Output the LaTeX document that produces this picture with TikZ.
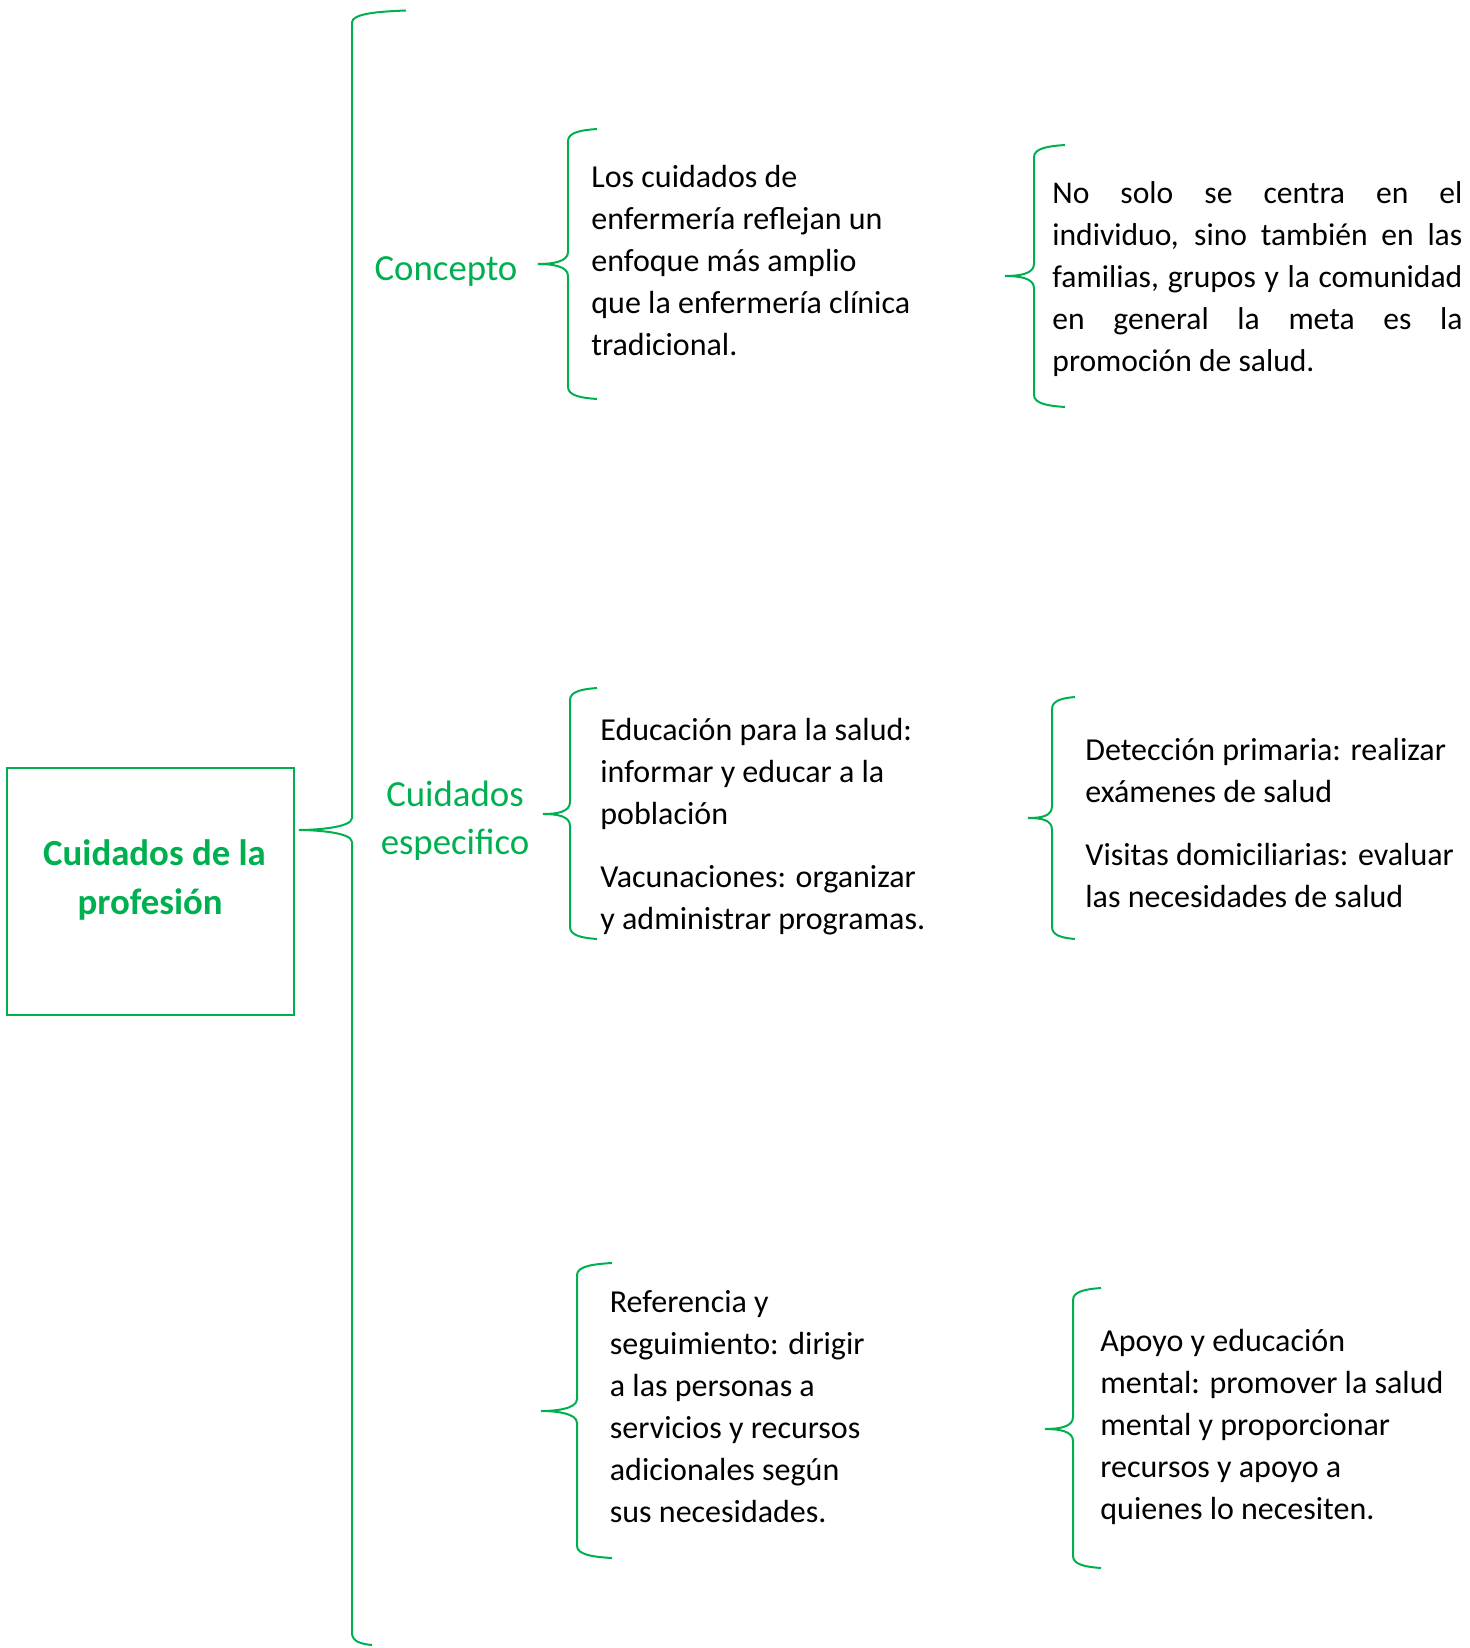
\documentclass[tikz,border=0pt]{standalone}
\usepackage{fontspec}
\setmainfont{Carlito}
\usepackage{xcolor}
\definecolor{verde}{HTML}{00B050}

% brace: x, top, bottom, tip x, tip y, top hook end, bottom hook end
\newcommand{\llave}[7]{%
  \draw[llave] (#6,#2) .. controls ({(#1+#6)/2},{#2+1}) and (#1,{#2+3}) .. (#1,{#2+12})
    -- (#1,{#5-12}) .. controls (#1,{#5-2}) and ({#4+14},#5) .. (#4,#5)
    .. controls ({#4+14},#5) and (#1,{#5+2}) .. (#1,{#5+12})
    -- (#1,{#3-12}) .. controls (#1,{#3-3}) and ({(#1+#7)/2},{#3-1}) .. (#7,#3);}

\begin{document}
\begin{tikzpicture}[x=0.5pt, y=-0.5pt,
  caja/.style={draw=verde, line width=1.2pt, rectangle, inner sep=0pt},
  llave/.style={draw=verde, line width=1pt},
  titulo/.style={text=verde, font=\fontsize{18.4pt}{24.7pt}\selectfont\bfseries, align=center},
  rama/.style={text=verde, font=\fontsize{18.4pt}{24pt}\selectfont, align=center},
  texto/.style={font=\fontsize{16pt}{21pt}\selectfont, align=left, inner sep=0pt, anchor=west}]
  \useasboundingbox (0,0) rectangle (1469,1648);

  % Define blocks
  \node [caja, minimum width=143.5pt, minimum height=123.5pt, anchor=north west] (raiz) at (6,767) {};
  \node [titulo] (tituloraiz) at (154.5,880) {Cuidados de la\\profesión\hspace*{4.3pt}};

  \node [rama] (concepto) at (446,272) {Concepto};
  \node [rama] (especifico) at (455,821) {Cuidados\\especifico};

  \node [texto] (tconcepto) at (591,261) {Los cuidados de\\enfermería reflejan un\\enfoque más amplio\\que la enfermería clínica\\tradicional.};
  \node [texto, font=\fontsize{15.8pt}{21pt}\selectfont, text width=205pt, align=justify] (tcomunidad) at (1052,279) {No solo se centra en el\linebreak individuo, sino también en las\linebreak familias, grupos y la comunidad\linebreak en general la meta es la\linebreak promoción de salud.};

  \node [texto] (teducacion) at (600,827) {Educación para la salud:\\informar y educar a la\\población\\[10.5pt]Vacunaciones: organizar\\y administrar programas.};
  \node [texto] (tdeteccion) at (1085,822.5) {Detección primaria: realizar\\exámenes de salud\\[10.5pt]Visitas domiciliarias: evaluar\\las necesidades de salud};

  \node [texto] (treferencia) at (609.5,1406.5) {Referencia y\\seguimiento: dirigir\\a las personas a\\servicios y recursos\\adicionales según\\sus necesidades.};
  \node [texto] (tapoyo) at (1100,1426.5) {Apoyo y educación\\mental: promover la salud\\mental y proporcionar\\recursos y apoyo a\\quienes lo necesiten.};

  % Braces
  \llave{352}{10.5}{1645}{299}{830}{406}{372}
  \llave{568}{129}{399}{538}{264}{597}{597}
  \llave{1034}{145}{407}{1005}{276}{1065}{1065}
  \llave{570}{688}{939}{543}{814}{597}{597}
  \llave{1052}{697}{939}{1028}{818}{1075}{1075}
  \llave{577}{1263}{1558}{541}{1411}{612}{612}
  \llave{1073}{1288}{1568}{1045}{1429}{1101}{1101}
\end{tikzpicture}
\end{document}
